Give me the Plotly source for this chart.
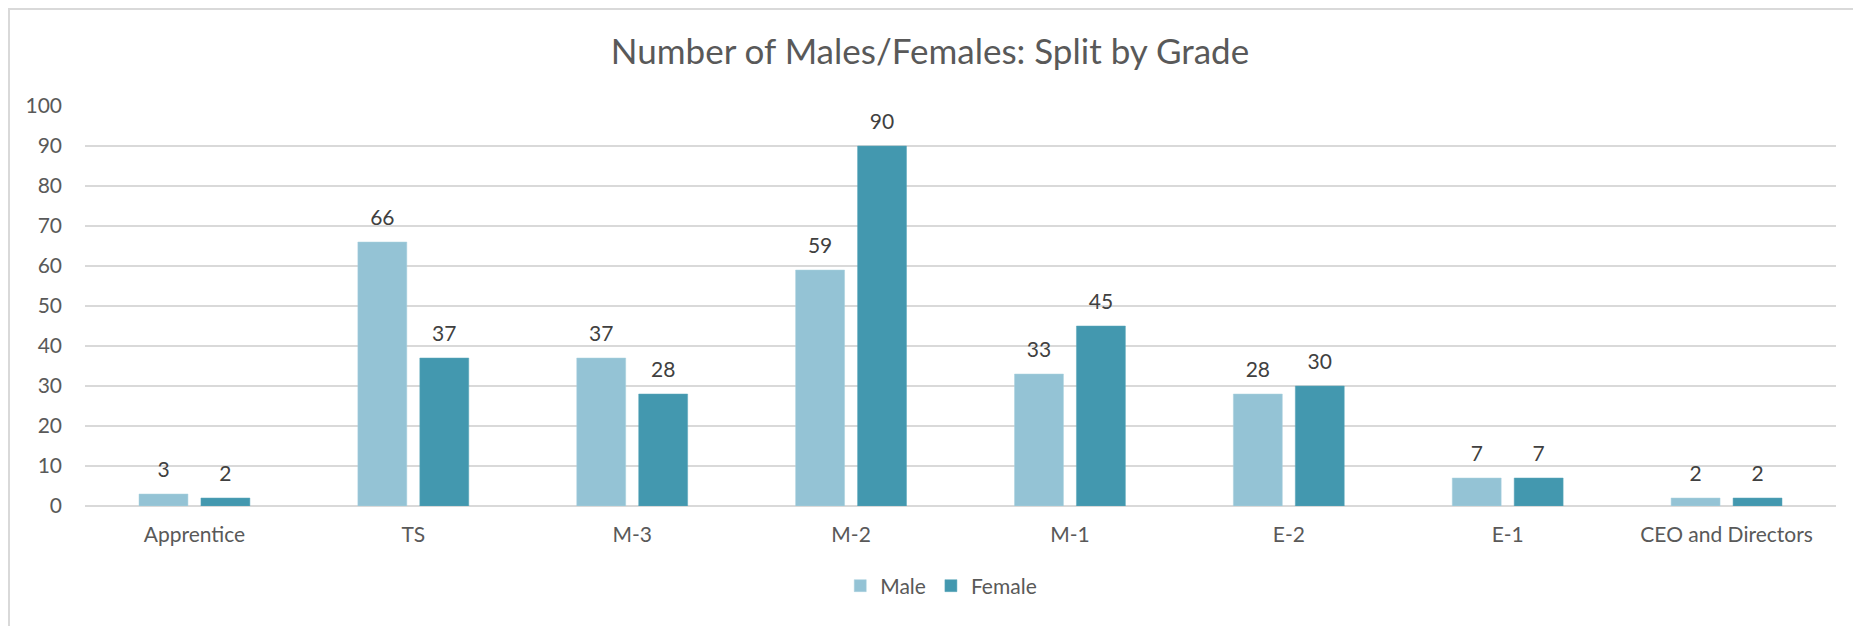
import plotly.graph_objects as go

# Grades on the x axis and headcount per gender
grades = ["Apprentice", "TS", "M-3", "M-2", "M-1", "E-2", "E-1", "CEO and Directors"]
male = [3, 66, 37, 59, 33, 28, 7, 2]
female = [2, 37, 28, 90, 45, 30, 7, 2]

y_ticks = list(range(0, 101, 10))

FONT = "Lato, 'Open Sans', sans-serif"
MALE_C = "#94C3D5"
FEMALE_C = "#4398AF"
GAP = 0.434

fig = go.Figure()
for name, vals, col, edge in [("Male", male, MALE_C, "#A9D0DE"),
                              ("Female", female, FEMALE_C, "#5AA6BB")]:
    fig.add_trace(go.Bar(
        x=grades, y=vals, name=name, offsetgroup=name,
        marker=dict(color=col, line=dict(color=edge, width=0.5)),
    ))
# value labels, grouped like the bars so they sit above each one
for name, vals in [("Male", male), ("Female", female)]:
    fig.add_trace(go.Scatter(
        x=grades, y=vals, mode="markers+text", offsetgroup=name,
        text=[str(v) for v in vals], textposition="top center",
        textfont=dict(size=21, color="#404040", family=FONT),
        marker=dict(size=17, opacity=0),
        showlegend=False, hoverinfo="skip", cliponaxis=False,
    ))

fig.update_layout(
    width=1861, height=626,
    paper_bgcolor="white", plot_bgcolor="white",
    font=dict(family=FONT, color="#595959", size=21),
    title=dict(
        text="Number of Males/Females: Split by Grade",
        x=922 / 1861, xref="container", xanchor="center",
        y=1 - 44 / 626, yref="container", yanchor="middle",
        font=dict(size=35, color="#595959", family=FONT),
    ),
    barmode="group", bargap=GAP, bargroupgap=0.21,
    scattermode="group", scattergap=GAP,
    margin=dict(l=77, r=33, t=98, b=128),
    showlegend=True,
    legend=dict(
        orientation="h", x=0.489, xanchor="center", y=-0.2, yanchor="middle",
        font=dict(size=21, color="#595959"), itemwidth=30,
        traceorder="normal",
    ),
)

fig.update_xaxes(
    showgrid=False, showline=False, ticks="",
    tickfont=dict(size=21, color="#595959"),
    ticklabelstandoff=14,
)
fig.update_yaxes(
    range=[0, 100], tickvals=y_ticks,
    showgrid=True, gridcolor="#D9D9D9", gridwidth=2,
    zeroline=True, zerolinecolor="#D9D9D9", zerolinewidth=2,
    showline=False, ticks="",
    tickfont=dict(size=21, color="#595959"),
    ticklabelstandoff=22,
)

# light frame along the left and top edge of the chart area
fig.add_shape(
    type="rect", xref="paper", yref="paper",
    x0=-76 / 1751, x1=1.2, y0=-0.5, y1=497 / 400,
    line=dict(color="#D9D9D9", width=2), fillcolor="rgba(0,0,0,0)",
    layer="below",
)

fig.write_html("out.html")
